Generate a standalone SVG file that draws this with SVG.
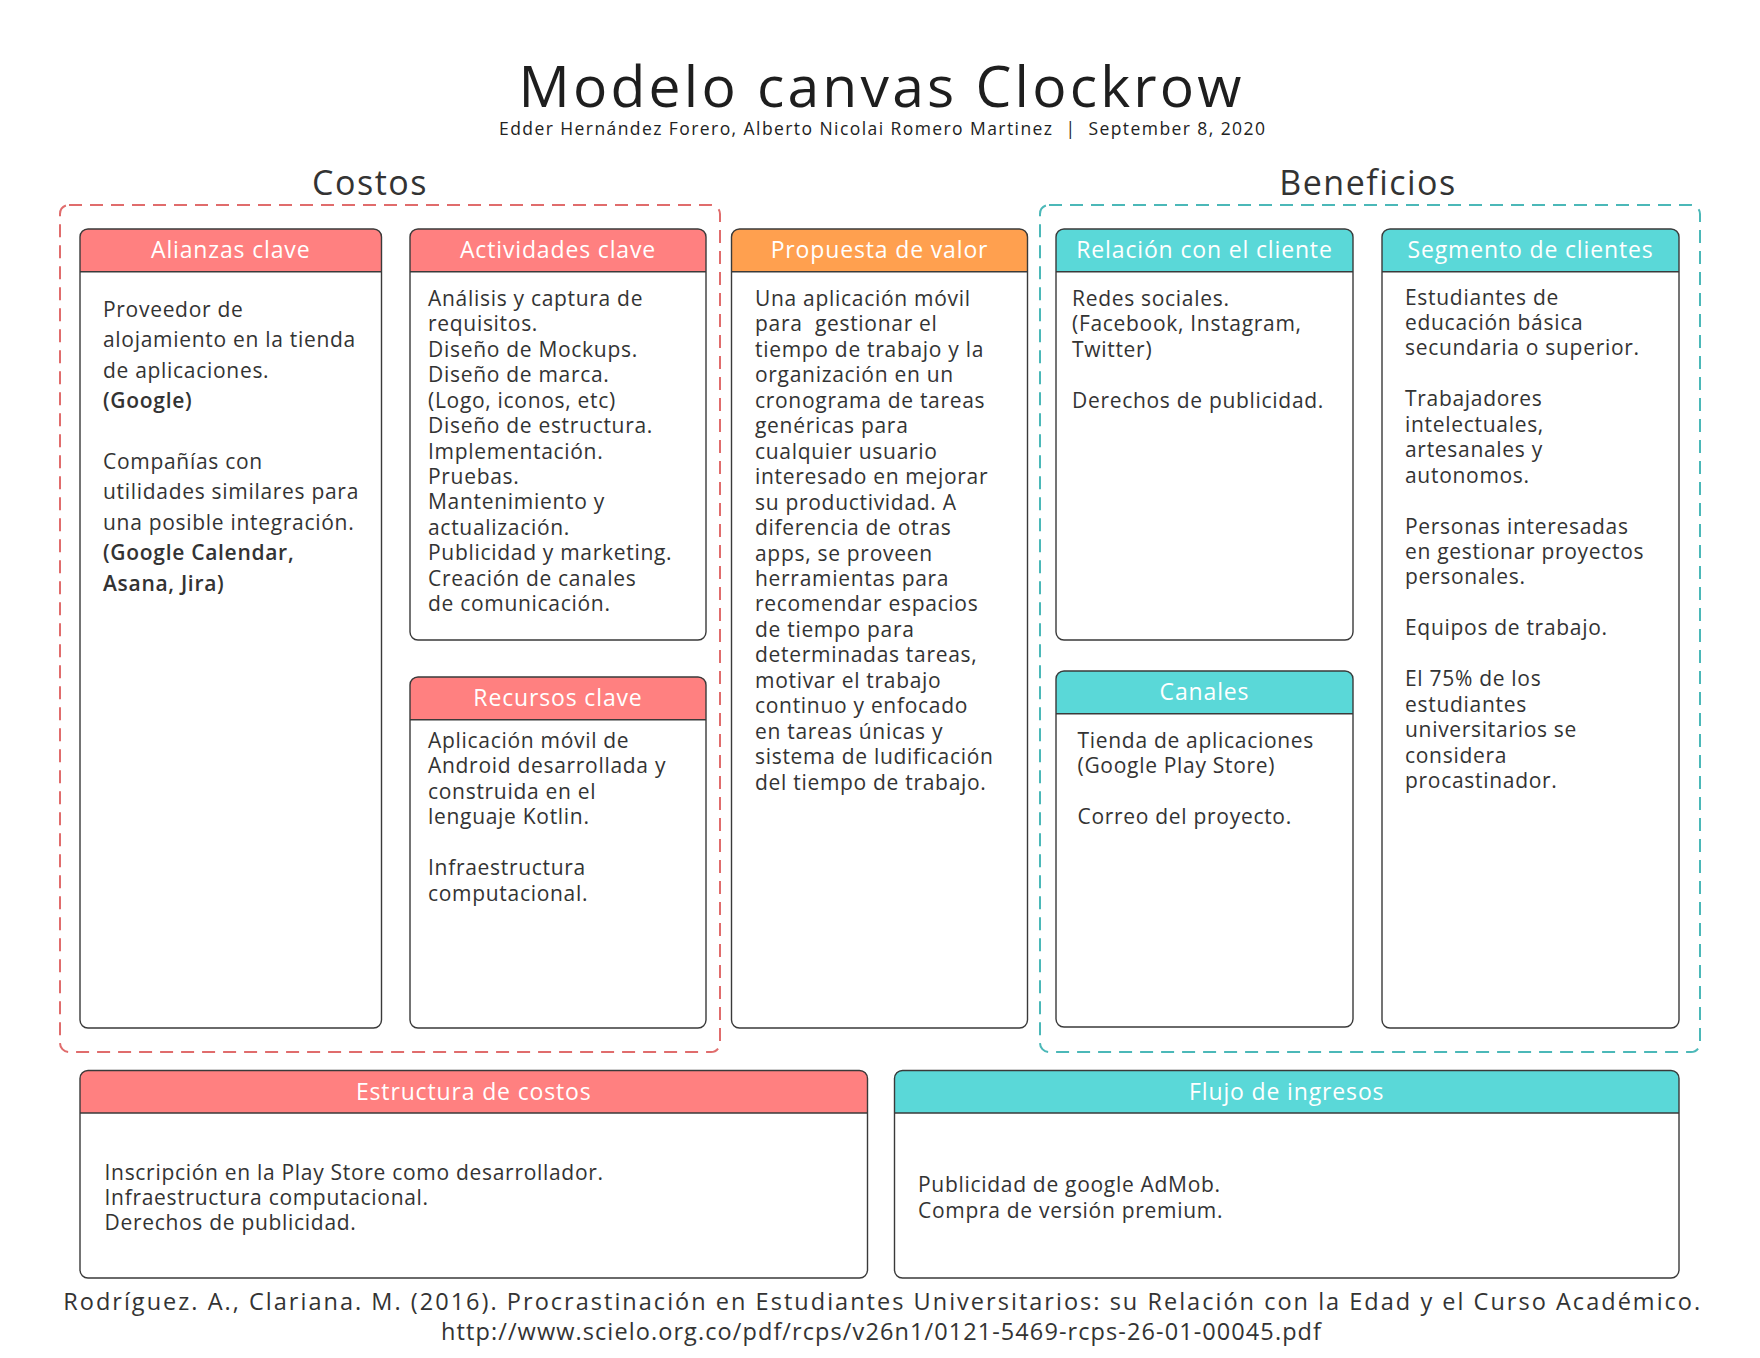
<svg xmlns="http://www.w3.org/2000/svg" width="1760" height="1358" viewBox="0 0 1760 1358">
<style>
text{font-family:"Open Sans","Liberation Sans",sans-serif;}
.title{font-size:57px;fill:#1e1e1e;font-weight:500;}
.sub{font-size:17.5px;fill:#222;}
.sec{font-size:34px;fill:#333;letter-spacing:1.5px;}
.hd{font-size:23px;fill:#fff;letter-spacing:0.85px;text-anchor:middle;}
.b{font-size:21px;fill:#333;letter-spacing:0.7px;}
.bb{font-weight:600;}
.foot{font-size:23.5px;fill:#333;}
.card{fill:none;stroke:#3a3a3a;stroke-width:1.4;}
.bg{fill:#fff;}
.hl{stroke:#3a3a3a;stroke-width:1.6;}
.pink{fill:#ff8080;}
.orange{fill:#ffa04f;}
.teal{fill:#5ad8d8;}
.dred{fill:none;stroke:#e06c6c;stroke-width:2;stroke-dasharray:13 8;}
.dteal{fill:none;stroke:#4bb8b8;stroke-width:2;stroke-dasharray:13 8;}
</style>
<rect width="1760" height="1358" fill="#fff"/>
<g id="header">
<text class="title" x="880" y="107" text-anchor="middle" textLength="723" lengthAdjust="spacing">Modelo canvas Clockrow</text>
<text class="sub" x="882" y="135" text-anchor="middle" textLength="766" lengthAdjust="spacing" xml:space="preserve">Edder Hernández Forero, Alberto Nicolai Romero Martinez  |  September 8, 2020</text>
</g>
<g id="costos">
<text class="sec" x="370" y="195" text-anchor="middle">Costos</text>
<rect class="dred" x="60" y="205" width="660" height="847" rx="9"/>
</g>
<g id="beneficios">
<text class="sec" x="1368" y="195" text-anchor="middle">Beneficios</text>
<rect class="dteal" x="1040" y="205" width="660" height="847" rx="9"/>
</g>

<g id="alianzas">
<rect class="bg" x="80" y="229" width="301.5" height="799" rx="8"/>
<path class="pink" d="M80,271.7 V237 Q80,229 88,229 H373.5 Q381.5,229 381.5,237 V271.7 Z"/>
<line class="hl" x1="80" y1="271.7" x2="381.5" y2="271.7"/>
<rect class="card" x="80" y="229" width="301.5" height="799" rx="8"/>
<text class="hd" x="230.75" y="258.3">Alianzas clave</text>
<text class="b" x="103">
<tspan x="103" y="316.7">Proveedor de</tspan>
<tspan x="103" y="347.1">alojamiento en la tienda</tspan>
<tspan x="103" y="377.6">de aplicaciones.</tspan>
<tspan x="103" y="408" class="bb">(Google)</tspan>
<tspan x="103" y="468.9">Compañías con</tspan>
<tspan x="103" y="499.3">utilidades similares para</tspan>
<tspan x="103" y="529.8">una posible integración.</tspan>
<tspan x="103" y="560.2" class="bb">(Google Calendar,</tspan>
<tspan x="103" y="590.7" class="bb">Asana, Jira)</tspan>
</text>
</g>

<g id="actividades">
<rect class="bg" x="410" y="229" width="296" height="411" rx="8"/>
<path class="pink" d="M410,271.7 V237 Q410,229 418,229 H698 Q706,229 706,237 V271.7 Z"/>
<line class="hl" x1="410" y1="271.7" x2="706" y2="271.7"/>
<rect class="card" x="410" y="229" width="296" height="411" rx="8"/>
<text class="hd" x="558" y="258.3">Actividades clave</text>
<text class="b">
<tspan x="428" y="306">Análisis y captura de</tspan>
<tspan x="428" y="331.4">requisitos.</tspan>
<tspan x="428" y="356.8">Diseño de Mockups.</tspan>
<tspan x="428" y="382.3">Diseño de marca.</tspan>
<tspan x="428" y="407.7">(Logo, iconos, etc)</tspan>
<tspan x="428" y="433.1">Diseño de estructura.</tspan>
<tspan x="428" y="458.5">Implementación.</tspan>
<tspan x="428" y="483.9">Pruebas.</tspan>
<tspan x="428" y="509.4">Mantenimiento y</tspan>
<tspan x="428" y="534.8">actualización.</tspan>
<tspan x="428" y="560.2">Publicidad y marketing.</tspan>
<tspan x="428" y="585.6">Creación de canales</tspan>
<tspan x="428" y="611">de comunicación.</tspan>
</text>
</g>

<g id="recursos">
<rect class="bg" x="410" y="677" width="296" height="351" rx="8"/>
<path class="pink" d="M410,719.7 V685 Q410,677 418,677 H698 Q706,677 706,685 V719.7 Z"/>
<line class="hl" x1="410" y1="719.7" x2="706" y2="719.7"/>
<rect class="card" x="410" y="677" width="296" height="351" rx="8"/>
<text class="hd" x="558" y="706.3">Recursos clave</text>
<text class="b">
<tspan x="428" y="748">Aplicación móvil de</tspan>
<tspan x="428" y="773.4">Android desarrollada y</tspan>
<tspan x="428" y="798.9">construida en el</tspan>
<tspan x="428" y="824.3">lenguaje Kotlin.</tspan>
<tspan x="428" y="875.2">Infraestructura</tspan>
<tspan x="428" y="900.6">computacional.</tspan>
</text>
</g>

<g id="propuesta">
<rect class="bg" x="731.5" y="229" width="296" height="799" rx="8"/>
<path class="orange" d="M731.5,271.7 V237 Q731.5,229 739.5,229 H1019.5 Q1027.5,229 1027.5,237 V271.7 Z"/>
<line class="hl" x1="731.5" y1="271.7" x2="1027.5" y2="271.7"/>
<rect class="card" x="731.5" y="229" width="296" height="799" rx="8"/>
<text class="hd" x="879.5" y="258.3">Propuesta de valor</text>
<text class="b" xml:space="preserve"><tspan x="755" y="306">Una aplicación móvil</tspan><tspan x="755" y="331.45">para  gestionar el</tspan><tspan x="755" y="356.9">tiempo de trabajo y la</tspan><tspan x="755" y="382.35">organización en un</tspan><tspan x="755" y="407.8">cronograma de tareas</tspan><tspan x="755" y="433.25">genéricas para</tspan><tspan x="755" y="458.7">cualquier usuario</tspan><tspan x="755" y="484.15">interesado en mejorar</tspan><tspan x="755" y="509.6">su productividad. A</tspan><tspan x="755" y="535.05">diferencia de otras</tspan><tspan x="755" y="560.5">apps, se proveen</tspan><tspan x="755" y="585.95">herramientas para</tspan><tspan x="755" y="611.4">recomendar espacios</tspan><tspan x="755" y="636.85">de tiempo para</tspan><tspan x="755" y="662.3">determinadas tareas,</tspan><tspan x="755" y="687.75">motivar el trabajo</tspan><tspan x="755" y="713.2">continuo y enfocado</tspan><tspan x="755" y="738.65">en tareas únicas y</tspan><tspan x="755" y="764.1">sistema de ludificación</tspan><tspan x="755" y="789.55">del tiempo de trabajo.</tspan></text>
</g>

<g id="relacion">
<rect class="bg" x="1056" y="229" width="297" height="411" rx="8"/>
<path class="teal" d="M1056,271.7 V237 Q1056,229 1064,229 H1345 Q1353,229 1353,237 V271.7 Z"/>
<line class="hl" x1="1056" y1="271.7" x2="1353" y2="271.7"/>
<rect class="card" x="1056" y="229" width="297" height="411" rx="8"/>
<text class="hd" x="1204.5" y="258.3">Relación con el cliente</text>
<text class="b">
<tspan x="1072" y="306">Redes sociales.</tspan>
<tspan x="1072" y="331.45">(Facebook, Instagram,</tspan>
<tspan x="1072" y="356.9">Twitter)</tspan>
<tspan x="1072" y="407.8">Derechos de publicidad.</tspan>
</text>
</g>

<g id="canales">
<rect class="bg" x="1056" y="671" width="297" height="356" rx="8"/>
<path class="teal" d="M1056,713.7 V679 Q1056,671 1064,671 H1345 Q1353,671 1353,679 V713.7 Z"/>
<line class="hl" x1="1056" y1="713.7" x2="1353" y2="713.7"/>
<rect class="card" x="1056" y="671" width="297" height="356" rx="8"/>
<text class="hd" x="1204.5" y="700.3">Canales</text>
<text class="b">
<tspan x="1077.5" y="748">Tienda de aplicaciones</tspan>
<tspan x="1077.5" y="773.45">(Google Play Store)</tspan>
<tspan x="1077.5" y="824.35">Correo del proyecto.</tspan>
</text>
</g>

<g id="segmento">
<rect class="bg" x="1382" y="229" width="297" height="799" rx="8"/>
<path class="teal" d="M1382,271.7 V237 Q1382,229 1390,229 H1671 Q1679,229 1679,237 V271.7 Z"/>
<line class="hl" x1="1382" y1="271.7" x2="1679" y2="271.7"/>
<rect class="card" x="1382" y="229" width="297" height="799" rx="8"/>
<text class="hd" x="1530.5" y="258.3">Segmento de clientes</text>
<text class="b">
<tspan x="1405" y="304.5">Estudiantes de</tspan>
<tspan x="1405" y="329.95">educación básica</tspan>
<tspan x="1405" y="355.4">secundaria o superior.</tspan>
<tspan x="1405" y="406.3">Trabajadores</tspan>
<tspan x="1405" y="431.75">intelectuales,</tspan>
<tspan x="1405" y="457.2">artesanales y</tspan>
<tspan x="1405" y="482.65">autonomos.</tspan>
<tspan x="1405" y="533.55">Personas interesadas</tspan>
<tspan x="1405" y="559">en gestionar proyectos</tspan>
<tspan x="1405" y="584.45">personales.</tspan>
<tspan x="1405" y="635.35">Equipos de trabajo.</tspan>
<tspan x="1405" y="686.25">El 75% de los</tspan>
<tspan x="1405" y="711.7">estudiantes</tspan>
<tspan x="1405" y="737.15">universitarios se</tspan>
<tspan x="1405" y="762.6">considera</tspan>
<tspan x="1405" y="788.05">procastinador.</tspan>
</text>
</g>

<g id="estructura">
<rect class="bg" x="80" y="1070.5" width="787.5" height="207.5" rx="8"/>
<path class="pink" d="M80,1113 V1078.5 Q80,1070.5 88,1070.5 H859.5 Q867.5,1070.5 867.5,1078.5 V1113 Z"/>
<line class="hl" x1="80" y1="1113" x2="867.5" y2="1113"/>
<rect class="card" x="80" y="1070.5" width="787.5" height="207.5" rx="8"/>
<text class="hd" x="473.75" y="1099.8">Estructura de costos</text>
<text class="b">
<tspan x="104.5" y="1179.5">Inscripción en la Play Store como desarrollador.</tspan>
<tspan x="104.5" y="1204.5">Infraestructura computacional.</tspan>
<tspan x="104.5" y="1229.5">Derechos de publicidad.</tspan>
</text>
</g>

<g id="flujo">
<rect class="bg" x="894.5" y="1070.5" width="784.5" height="207.5" rx="8"/>
<path class="teal" d="M894.5,1113 V1078.5 Q894.5,1070.5 902.5,1070.5 H1671 Q1679,1070.5 1679,1078.5 V1113 Z"/>
<line class="hl" x1="894.5" y1="1113" x2="1679" y2="1113"/>
<rect class="card" x="894.5" y="1070.5" width="784.5" height="207.5" rx="8"/>
<text class="hd" x="1286.75" y="1099.8">Flujo de ingresos</text>
<text class="b">
<tspan x="918" y="1192">Publicidad de google AdMob.</tspan>
<tspan x="918" y="1217.5">Compra de versión premium.</tspan>
</text>
</g>

<g id="referencia">
<text class="foot" x="881.7" y="1310" text-anchor="middle" textLength="1637" lengthAdjust="spacing">Rodríguez. A., Clariana. M. (2016). Procrastinación en Estudiantes Universitarios: su Relación con la Edad y el Curso Académico.</text>
<text class="foot" x="881" y="1340" text-anchor="middle" textLength="880" lengthAdjust="spacing">http://www.scielo.org.co/pdf/rcps/v26n1/0121-5469-rcps-26-01-00045.pdf</text>
</g>
</svg>
